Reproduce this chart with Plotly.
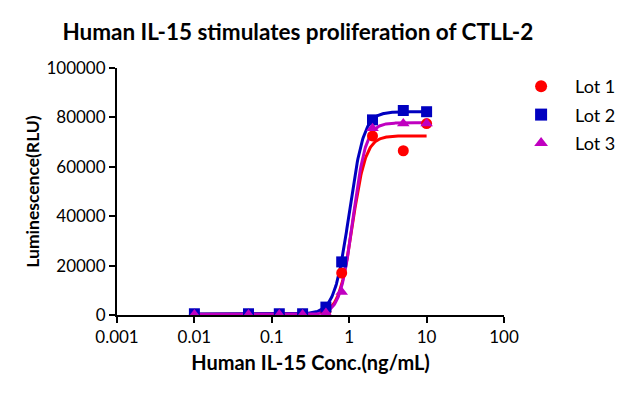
import numpy as np
import plotly.graph_objects as go

conc = [0.01, 0.05, 0.125, 0.25, 0.5, 0.8, 2, 5, 10]
lot1 = [300, 300, 300, 300, 1500, 17000, 72500, 66500, 77500]
lot2 = [500, 500, 500, 500, 3200, 21500, 79000, 82800, 82300]
lot3 = [200, 200, 200, 200, 800, 9300, 75600, 77500, 77500]

# 4PL fit parameters (bottom, top, EC50, hill)
fit1 = [300, 72500, 1.10, 5.0]
fit2 = [400, 82300, 1.00, 4.6]
fit3 = [200, 77800, 1.12, 5.2]

names = ["Lot 1", "Lot 2", "Lot 3"]
colors = ["#FF0000", "#0000C0", "#C000C0"]
symbols = ["circle", "square", "triangle-up"]
data = [lot1, lot2, lot3]
fits = [fit1, fit2, fit3]

xs = np.logspace(np.log10(0.01), np.log10(10), 400)

fig = go.Figure()
for name, col, sym, ys, p in zip(names, colors, symbols, data, fits):
    b, t, ec, h = p
    yc = b + (t - b) / (1 + (ec / xs) ** h)
    fig.add_trace(go.Scatter(x=xs, y=yc, mode="lines", line=dict(color=col, width=3),
                             showlegend=False, hoverinfo="skip"))
for name, col, sym, ys, p in zip(names, colors, symbols, data, fits):
    fig.add_trace(go.Scatter(x=conc, y=ys, mode="markers", name=name, legendgroup=name,
                             marker=dict(color=col, symbol=sym, size=11)))

fig.update_layout(
    width=637, height=393,
    margin=dict(l=109, r=141, t=60, b=86),
    paper_bgcolor="white", plot_bgcolor="white",
    font=dict(family="Lato, Open Sans, sans-serif", color="black", size=17),
    title=dict(text="<b>Human IL-15 stimulates proliferation of CTLL-2</b>",
               x=0.455, xanchor="center", y=0.939, yanchor="middle",
               font=dict(size=22.5, color="black")),
    legend=dict(x=1.008, y=1.0, xanchor="left", yanchor="top",
                font=dict(size=18, color="black"), itemsizing="constant",
                itemwidth=58, traceorder="grouped", tracegroupgap=2,
                bgcolor="rgba(0,0,0,0)"),
    showlegend=True,
)
fig.update_xaxes(type="log", range=[-3, 2], showgrid=False, zeroline=False,
                 showline=True, linecolor="black", linewidth=2, automargin=False,
                 ticks="outside", ticklen=6, tickwidth=2, tickcolor="black",
                 tickfont=dict(size=17),
                 tickvals=[0.001, 0.01, 0.1, 1, 10, 100],
                 ticktext=["0.001", "0.01", "0.1", "1", "10", "100"],
                 title=dict(text="<b>Human IL-15 Conc.(ng/mL)</b>", font=dict(size=20), standoff=10))
fig.update_yaxes(range=[0, 100000], showgrid=False, zeroline=False,
                 showline=True, linecolor="black", linewidth=2, automargin=False,
                 ticks="outside", ticklen=6, tickwidth=2, tickcolor="black",
                 tickfont=dict(size=17),
                 tickvals=[0, 20000, 40000, 60000, 80000, 100000],
                 ticktext=["0", "20000", "40000", "60000", "80000", "100000"],
                 title=dict(text="<b>Luminescence(RLU)</b>", font=dict(size=17.5), standoff=2))

fig.write_html("out.html")
